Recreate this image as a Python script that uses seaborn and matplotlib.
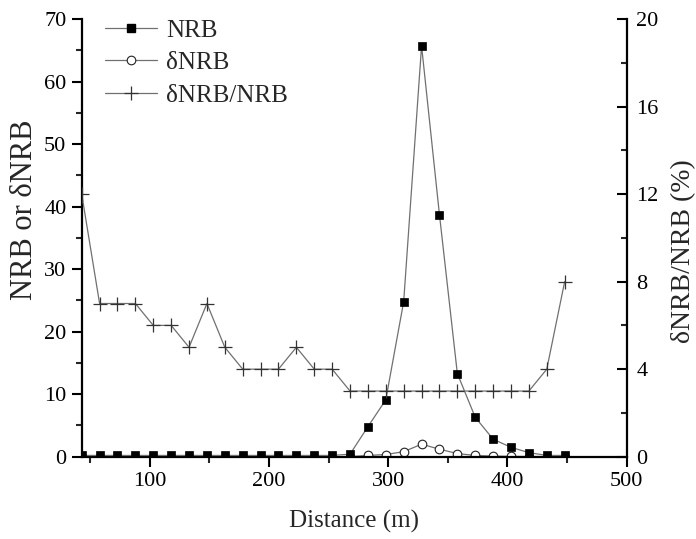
import numpy as np
import pandas as pd
import matplotlib
matplotlib.use("Agg")
import matplotlib.pyplot as plt
import seaborn as sns
from matplotlib.ticker import MultipleLocator
from matplotlib.lines import Line2D

# ---- data ----
distance = [43, 58, 73, 88, 103, 118, 133, 148, 163, 178, 193, 208, 223, 238,
            253, 268, 283, 298, 313, 328, 343, 358, 373, 388, 403, 418, 433, 448]
nrb = [0.2, 0.2, 0.2, 0.2, 0.2, 0.2, 0.2, 0.2, 0.2, 0.2, 0.2, 0.2, 0.2, 0.2,
       0.2, 0.4, 4.8, 9.1, 24.8, 65.7, 38.7, 13.3, 6.3, 2.8, 1.5, 0.65, 0.2, 0.2]
dnrb = [0.02, 0.02, 0.02, 0.02, 0.02, 0.02, 0.02, 0.02, 0.02, 0.02, 0.02, 0.02, 0.02, 0.02,
        0.02, 0.02, 0.2, 0.35, 0.8, 2.0, 1.2, 0.5, 0.2, 0.1, 0.05, 0.03, 0.02, 0.02]
ratio_pct = [12, 7, 7, 7, 6, 6, 5, 7, 5, 4, 4, 4, 5, 4,
             4, 3, 3, 3, 3, 3, 3, 3, 3, 3, 3, 3, 4, 8]
labels = ["NRB", "δNRB", "δNRB/NRB"]

df = pd.DataFrame({"Distance": distance, "NRB": nrb, "dNRB": dnrb, "ratio": ratio_pct})

sns.set_style("ticks")
plt.rcParams["font.family"] = ["Liberation Serif", "DejaVu Serif"]

fig = plt.figure(figsize=(6.96, 5.39), dpi=100)
ax = fig.add_axes([0.1174, 0.1527, 0.9004 - 0.1174, 0.9647 - 0.1527])
ax2 = ax.twinx()

line_col = "#707070"
lw = 0.9

sns.lineplot(data=df, x="Distance", y="dNRB", ax=ax, color=line_col, lw=lw,
             marker="o", markersize=6.2, markerfacecolor="white",
             markeredgecolor="#222222", markeredgewidth=0.8, zorder=2)
sns.lineplot(data=df, x="Distance", y="NRB", ax=ax, color=line_col, lw=lw,
             marker="s", markersize=6.3, markerfacecolor="black",
             markeredgecolor="black", markeredgewidth=0.5, zorder=3)
sns.lineplot(data=df, x="Distance", y="ratio", ax=ax2, color=line_col, lw=lw,
             marker="+", markersize=10, markeredgecolor="#333333",
             markeredgewidth=0.9, zorder=3)

ax.set_xlim(43, 500)
ax.set_ylim(0, 70)
ax2.set_ylim(0, 20)

ax.xaxis.set_major_locator(MultipleLocator(100))
ax.xaxis.set_minor_locator(MultipleLocator(50))
ax.yaxis.set_major_locator(MultipleLocator(10))
ax.yaxis.set_minor_locator(MultipleLocator(5))
ax2.yaxis.set_major_locator(MultipleLocator(4))
ax2.yaxis.set_minor_locator(MultipleLocator(2))

for a in (ax, ax2):
    a.spines["top"].set_visible(False)
    for s in ("left", "right", "bottom"):
        a.spines[s].set_linewidth(1.6)
        a.spines[s].set_color("black")

ax.spines["right"].set_visible(False)
ax2.spines["left"].set_visible(False)
ax2.spines["bottom"].set_visible(False)

ax.tick_params(axis="both", which="major", direction="out", length=7, width=1.5,
               labelsize=16, colors="black", pad=4)
ax.tick_params(axis="both", which="minor", direction="out", length=4, width=1.5)
ax2.tick_params(axis="y", which="major", direction="in", length=7, width=1.5,
                labelsize=16, colors="black", pad=7)
ax2.tick_params(axis="y", which="minor", direction="in", length=4, width=1.5)

ax.set_xlabel("Distance (m)", fontsize=18)
ax.set_ylabel("NRB or δNRB", fontsize=22)
ax2.set_ylabel("δNRB/NRB (%)", fontsize=20)
ax.xaxis.set_label_coords(0.5, -0.122)
ax.yaxis.set_label_coords(-0.078, 0.565)
ax2.yaxis.set_label_coords(1.082, 0.469)

handles = [
    Line2D([], [], color=line_col, lw=lw, marker="s", markersize=6.3,
           markerfacecolor="black", markeredgecolor="black"),
    Line2D([], [], color=line_col, lw=lw, marker="o", markersize=6.2,
           markerfacecolor="white", markeredgecolor="#222222", markeredgewidth=0.8),
    Line2D([], [], color=line_col, lw=lw, marker="+", markersize=10,
           markeredgecolor="#333333", markeredgewidth=0.9),
]
leg = ax2.legend(handles, labels, loc="upper left", bbox_to_anchor=(0.042, 1.0),
                 frameon=False, fontsize=18, handlelength=2.1, handletextpad=0.35,
                 labelspacing=0.4, borderaxespad=0.0, borderpad=0.0)
if ax.get_legend() is not None:
    ax.get_legend().remove()

fig.savefig("out.png", dpi=100)
